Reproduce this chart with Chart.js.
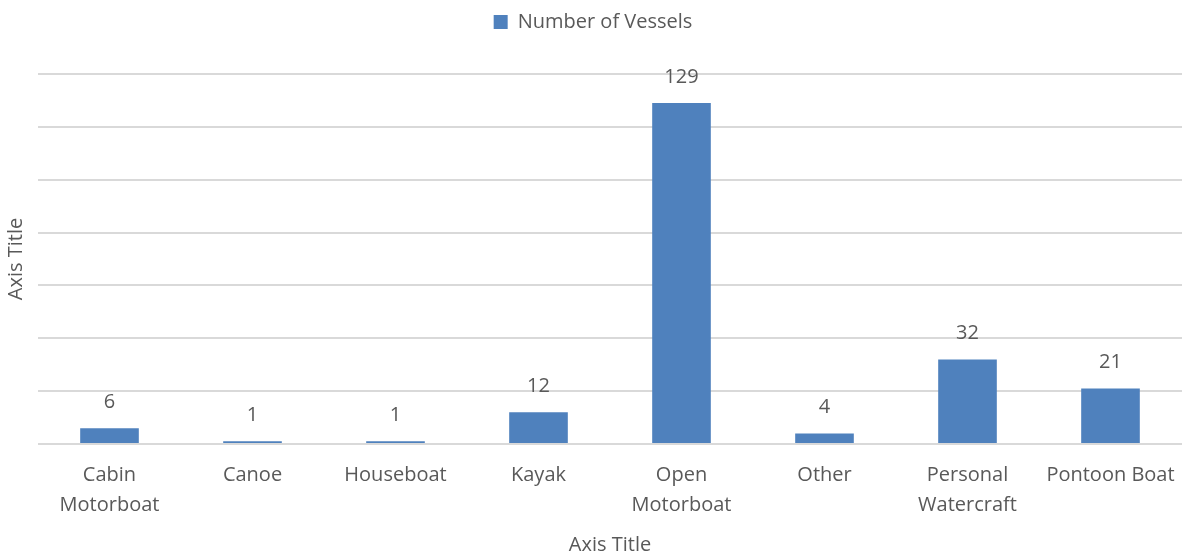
<!DOCTYPE html>
<html>
<head>
<meta charset="utf-8">
<script src="https://cdn.jsdelivr.net/npm/chart.js@4/dist/chart.umd.min.js"></script>
<style>
  html, body { margin: 0; padding: 0; background: #fff; }
  #wrap { width: 1190px; height: 555px; }
</style>
</head>
<body>
<div id="wrap"><canvas id="vesselChart" width="1190" height="555"></canvas></div>
<script>
"use strict";

var categories = [
    ['Cabin', 'Motorboat'], 'Canoe', 'Houseboat', 'Kayak',
    ['Open', 'Motorboat'], 'Other', ['Personal', 'Watercraft'], 'Pontoon Boat'
];
var vessels = [6, 1, 1, 12, 129, 4, 32, 21];
var seriesName = 'Number of Vessels';

var textColor = '#595959';
var fontFamily = '"Open Sans", "Noto Sans", sans-serif';

// draws the value above each bar
var barValues = {
    id: 'barValues',
    afterDatasetsDraw: function (chart) {
        var c = chart.ctx;
        var meta = chart.getDatasetMeta(0);
        c.save();
        c.fillStyle = textColor;
        c.font = '20px ' + fontFamily;
        c.textAlign = 'center';
        c.textBaseline = 'middle';
        meta.data.forEach(function (bar, i) {
            c.fillText(chart.data.datasets[0].data[i], bar.x, bar.y - 26);
        });
        c.restore();
    }
};

// extra room between the legend and the plot
var legendGap = {
    id: 'legendGap',
    beforeInit: function (chart) {
        var fit = chart.legend.fit;
        chart.legend.fit = function () {
            fit.bind(chart.legend)();
            this.height += 32;
        };
    }
};

var ctx = document.getElementById('vesselChart').getContext('2d');
new Chart(ctx, {
    type: 'bar',
    data: {
        labels: categories,
        datasets: [{
            label: seriesName,
            data: vessels,
            backgroundColor: '#4F81BD',
            borderWidth: 0,
            barPercentage: 0.41,
            categoryPercentage: 1
        }]
    },
    options: {
        responsive: false,
        animation: false,
        layout: {
            padding: { top: 2, right: 8, bottom: 0, left: 4 }
        },
        scales: {
            x: {
                grid: { display: false },
                border: { display: false },
                ticks: {
                    color: textColor,
                    font: { size: 20, family: fontFamily, lineHeight: 1.5 },
                    padding: 8,
                    maxRotation: 0,
                    autoSkip: false
                },
                title: {
                    display: true,
                    text: 'Axis Title',
                    color: textColor,
                    font: { size: 20, family: fontFamily, lineHeight: 1 },
                    padding: { top: 7, bottom: 0 }
                }
            },
            y: {
                min: 0,
                max: 140,
                ticks: { display: false, stepSize: 20 },
                border: { display: false },
                grid: {
                    color: '#D9D9D9',
                    lineWidth: 2,
                    drawTicks: false
                },
                title: {
                    display: true,
                    text: 'Axis Title',
                    color: textColor,
                    font: { size: 20, family: fontFamily },
                    padding: { top: 0, bottom: 10 }
                }
            }
        },
        plugins: {
            legend: {
                position: 'top',
                labels: {
                    color: textColor,
                    boxWidth: 14,
                    boxHeight: 14,
                    padding: 10,
                    font: { size: 20, family: fontFamily }
                }
            },
            tooltip: { enabled: false }
        }
    },
    plugins: [barValues, legendGap]
});
</script>
</body>
</html>
